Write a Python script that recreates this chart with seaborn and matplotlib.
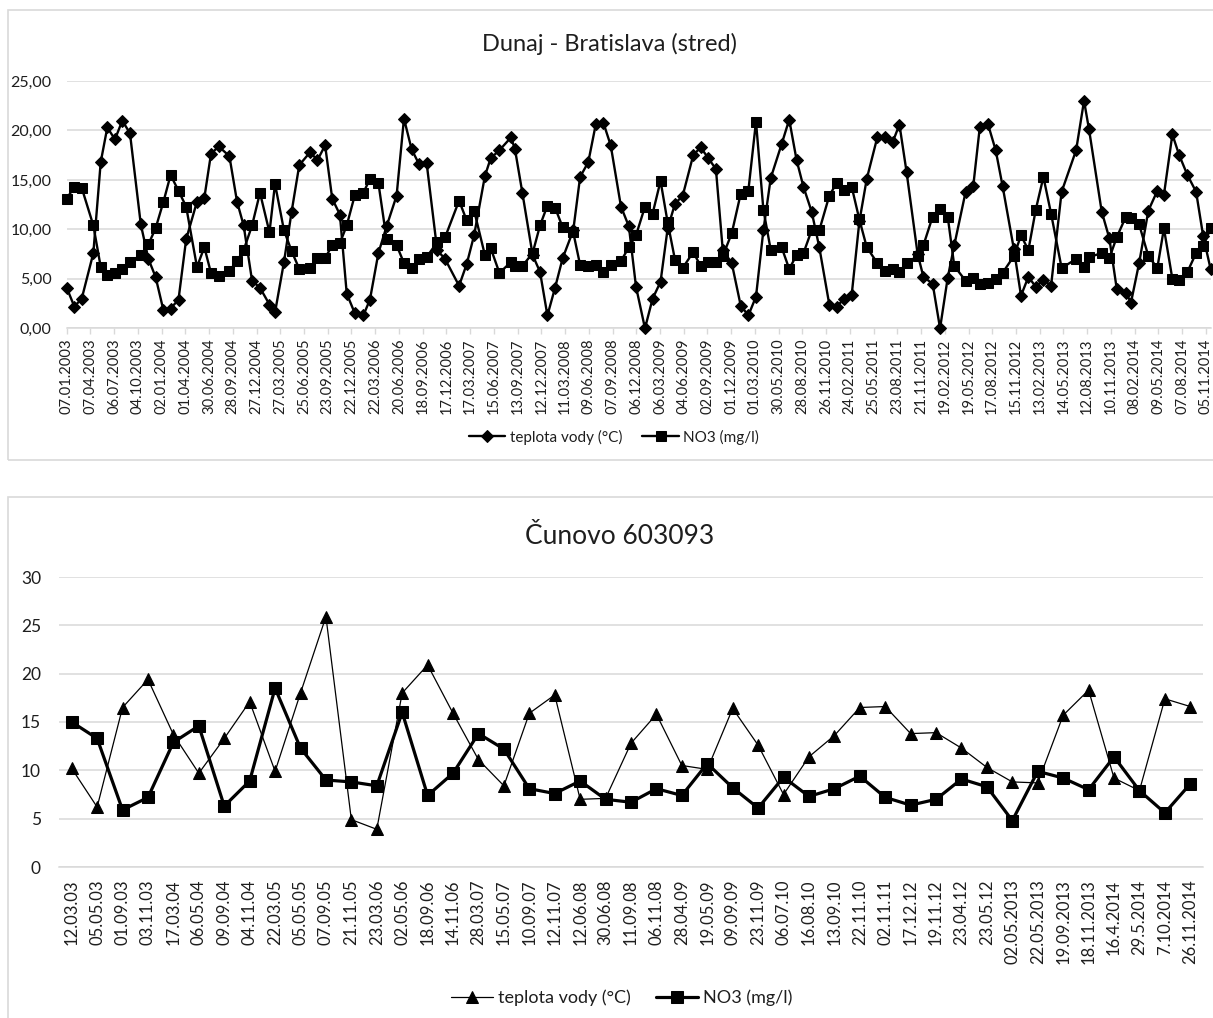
import numpy as np
import pandas as pd
import matplotlib
matplotlib.use("Agg")
import matplotlib.pyplot as plt
import seaborn as sns
from matplotlib.patches import Rectangle

# ---------------- data: Dunaj - Bratislava (stred) ----------------
bratislava_dates = [
    "07.01.2003", "05.02.2003", "05.03.2003", "18.04.2003", "16.05.2003", "10.06.2003",
    "09.07.2003", "06.08.2003", "04.09.2003", "15.10.2003", "13.11.2003", "10.12.2003",
    "09.01.2004", "05.02.2004", "06.03.2004", "04.04.2004", "15.05.2004", "12.06.2004",
    "07.07.2004", "05.08.2004", "15.09.2004", "14.10.2004", "08.11.2004", "10.12.2004",
    "09.01.2005", "14.02.2005", "07.03.2005", "10.04.2005", "09.05.2005", "07.06.2005",
    "18.07.2005", "15.08.2005", "13.09.2005", "10.10.2005", "08.11.2005", "04.12.2005",
    "04.01.2006", "05.02.2006", "02.03.2006", "03.04.2006", "04.05.2006", "11.06.2006",
    "09.07.2006", "07.08.2006", "04.09.2006", "03.10.2006", "12.11.2006", "12.12.2006",
    "03.02.2007", "04.03.2007", "01.04.2007", "12.05.2007", "03.06.2007", "06.07.2007",
    "19.08.2007", "03.09.2007", "01.10.2007", "09.11.2007", "07.12.2007",
    "04.01.2008", "02.02.2008", "02.03.2008", "11.04.2008", "07.05.2008", "07.06.2008",
    "06.07.2008", "03.08.2008", "31.08.2008", "09.10.2008", "08.11.2008", "05.12.2008",
    "08.01.2009", "06.02.2009", "08.03.2009", "04.04.2009", "02.05.2009", "31.05.2009",
    "10.07.2009", "07.08.2009", "05.09.2009", "04.10.2009", "30.10.2009", "03.12.2009",
    "06.01.2010", "04.02.2010", "05.03.2010", "02.04.2010", "30.04.2010", "10.06.2010",
    "09.07.2010", "06.08.2010", "01.09.2010", "02.10.2010", "31.10.2010", "08.12.2010",
    "05.01.2011", "03.02.2011", "03.03.2011", "01.04.2011", "29.04.2011", "08.06.2011",
    "07.07.2011", "05.08.2011", "31.08.2011", "27.09.2011", "08.11.2011", "30.11.2011",
    "04.01.2012", "01.02.2012", "01.03.2012", "26.03.2012", "08.05.2012", "06.06.2012",
    "01.07.2012", "31.07.2012", "30.08.2012", "25.09.2012", "07.11.2012", "04.12.2012",
    "01.01.2013", "29.01.2013", "27.02.2013", "28.03.2013", "07.05.2013", "01.07.2013",
    "31.07.2013", "19.08.2013", "06.10.2013", "04.11.2013", "02.12.2013",
    "06.01.2014", "25.01.2014", "25.02.2014", "01.04.2014", "05.05.2014", "30.05.2014",
    "01.07.2014", "27.07.2014", "27.08.2014", "29.09.2014", "26.10.2014", "23.11.2014",
]
bratislava_temp = [
    4.1, 2.2, 3.0, 7.6, 16.8, 20.3, 19.1, 21.0, 19.7, 10.5, 7.0, 5.2,
    1.8, 2.0, 2.9, 9.0, 12.8, 13.2, 17.6, 18.4, 17.4, 12.8, 10.4, 4.8,
    4.1, 2.4, 1.6, 6.7, 11.8, 16.5, 17.8, 17.0, 18.5, 13.1, 11.5, 3.5,
    1.5, 1.3, 2.9, 7.6, 10.3, 13.4, 21.2, 18.1, 16.6, 16.7, 7.9, 7.0,
    4.3, 6.5, 9.4, 15.4, 17.2, 18.0, 19.3, 18.1, 13.7, 7.4, 5.7,
    1.3, 4.1, 7.1, 9.9, 15.3, 16.8, 20.7, 20.8, 18.5, 12.3, 10.3, 4.2,
    0.0, 3.0, 4.7, 10.1, 12.6, 13.4, 17.5, 18.3, 17.2, 16.1, 7.9, 6.6,
    2.3, 1.3, 3.2, 9.9, 15.2, 18.6, 21.1, 17.0, 14.3, 11.8, 8.2, 2.4,
    2.2, 3.0, 3.4, 10.8, 15.1, 19.3, 19.3, 18.8, 20.6, 15.8, 7.5, 5.2,
    4.5, 0.0, 5.1, 8.4, 13.8, 14.4, 20.4, 20.7, 18.0, 14.4, 8.0, 3.3,
    5.2, 4.2, 4.9, 4.3, 13.8, 18.0, 23.0, 20.1, 11.8, 9.1, 4.0,
    3.6, 2.6, 6.6, 11.9, 13.9, 13.5, 19.6, 17.5, 15.5, 13.8, 9.3, 6.0,
]
bratislava_no3 = [
    13.1, 14.3, 14.2, 10.4, 6.2, 5.4, 5.6, 6.0, 6.7, 7.4, 8.5, 10.1,
    12.8, 15.5, 13.9, 12.3, 6.2, 8.2, 5.6, 5.3, 5.8, 6.8, 7.9, 10.4,
    13.7, 9.7, 14.6, 9.9, 7.8, 6.0, 6.1, 7.1, 7.1, 8.4, 8.6, 10.4,
    13.5, 13.7, 15.1, 14.7, 9.0, 8.4, 6.6, 6.1, 7.0, 7.2, 8.7, 9.2,
    12.9, 10.9, 11.9, 7.4, 8.1, 5.6, 6.7, 6.3, 6.3, 7.6, 10.4,
    12.4, 12.2, 10.2, 9.7, 6.4, 6.3, 6.4, 5.7, 6.4, 6.8, 8.2, 9.4,
    12.3, 11.6, 14.9, 10.7, 6.9, 6.1, 7.7, 6.3, 6.7, 6.7, 7.3, 9.6,
    13.6, 13.9, 20.9, 12.0, 7.9, 8.2, 6.0, 7.4, 7.6, 9.9, 9.9, 13.4,
    14.7, 14.0, 14.3, 11.0, 8.2, 6.6, 5.8, 6.0, 5.7, 6.6, 7.3, 8.4,
    11.3, 12.1, 11.3, 6.3, 4.8, 5.1, 4.5, 4.6, 5.0, 5.6, 7.3, 9.4,
    7.9, 12.0, 15.3, 11.6, 6.1, 7.0, 6.2, 7.2, 7.6, 7.1, 9.2,
    11.3, 11.1, 10.5, 7.3, 6.1, 10.1, 5.0, 4.9, 5.7, 7.6, 8.3, 10.1,
]
bratislava_ticks = [
    "07.01.2003", "07.04.2003", "06.07.2003", "04.10.2003", "02.01.2004", "01.04.2004",
    "30.06.2004", "28.09.2004", "27.12.2004", "27.03.2005", "25.06.2005", "23.09.2005",
    "22.12.2005", "22.03.2006", "20.06.2006", "18.09.2006", "17.12.2006", "17.03.2007",
    "15.06.2007", "13.09.2007", "12.12.2007", "11.03.2008", "09.06.2008", "07.09.2008",
    "06.12.2008", "06.03.2009", "04.06.2009", "02.09.2009", "01.12.2009", "01.03.2010",
    "30.05.2010", "28.08.2010", "26.11.2010", "24.02.2011", "25.05.2011", "23.08.2011",
    "21.11.2011", "19.02.2012", "19.05.2012", "17.08.2012", "15.11.2012", "13.02.2013",
    "14.05.2013", "12.08.2013", "10.11.2013", "08.02.2014", "09.05.2014", "07.08.2014",
    "05.11.2014",
]
bratislava_yticks = [0, 5, 10, 15, 20, 25]

# ---------------- data: Čunovo 603093 ----------------
cunovo_labels = [
    "12.03.03", "05.05.03", "01.09.03", "03.11.03", "17.03.04", "06.05.04", "09.09.04",
    "04.11.04", "22.03.05", "05.05.05", "07.09.05", "21.11.05", "23.03.06", "02.05.06",
    "18.09.06", "14.11.06", "28.03.07", "15.05.07", "10.09.07", "12.11.07", "12.06.08",
    "30.06.08", "11.09.08", "06.11.08", "28.04.09", "19.05.09", "09.09.09", "23.11.09",
    "06.07.10", "16.08.10", "13.09.10", "22.11.10", "02.11.11", "17.12.12", "19.11.12",
    "23.04.12", "23.05.12", "02.05.2013", "22.05.2013", "19.09.2013", "18.11.2013",
    "16.4.2014", "29.5.2014", "7.10.2014", "26.11.2014",
]
cunovo_temp = [
    10.2, 6.2, 16.5, 19.4, 13.7, 9.7, 13.3, 17.1, 9.9, 18.0, 25.9, 4.9, 3.9, 18.0,
    20.9, 15.9, 11.1, 8.4, 15.9, 17.8, 7.0, 7.1, 12.8, 15.8, 10.5, 10.1, 16.4, 12.6,
    7.5, 11.4, 13.6, 16.5, 16.6, 13.8, 13.9, 12.3, 10.3, 8.8, 8.7, 15.7, 18.3, 9.2,
    7.9, 17.4, 16.6,
]
cunovo_no3 = [
    15.0, 13.3, 5.9, 7.2, 12.9, 14.6, 6.3, 8.9, 18.5, 12.3, 9.0, 8.8, 8.4, 16.0,
    7.4, 9.7, 13.8, 12.2, 8.1, 7.6, 8.9, 7.0, 6.7, 8.1, 7.4, 10.7, 8.2, 6.1,
    9.3, 7.3, 8.1, 9.4, 7.2, 6.4, 7.0, 9.1, 8.3, 4.8, 9.9, 9.2, 8.0, 11.4,
    7.9, 5.6, 8.6,
]
cunovo_yticks = [0, 5, 10, 15, 20, 25, 30]

label_temp = "teplota vody (°C)"
label_no3 = "NO3 (mg/l)"

# ---------------- styling ----------------
sns.set_theme(style="white")
plt.rcParams["font.family"] = ["Lato", "DejaVu Sans"]
TXT = "#1e1e1e"
GRID = "#d9d9d9"

W, H = 1213, 1018
fig = plt.figure(figsize=(W / 100, H / 100), dpi=100)
fig.patch.set_facecolor("white")


def fx(px):
    return px / W


def fy(py):
    return 1 - py / H


# chart frames
fig.add_artist(Rectangle((fx(8), fy(460)), fx(1230 - 8), (460 - 10) / H,
                         transform=fig.transFigure, fill=False, edgecolor=GRID, lw=1.2))
fig.add_artist(Rectangle((fx(8), fy(1030)), fx(1230 - 8), (1030 - 497) / H,
                         transform=fig.transFigure, fill=False, edgecolor=GRID, lw=1.2))

# ---------------- top chart ----------------
df_top = pd.DataFrame({
    "date": pd.to_datetime(bratislava_dates, format="%d.%m.%Y"),
    "temp": bratislava_temp,
    "no3": bratislava_no3,
})
ax1 = fig.add_axes([fx(66.7), fy(328.3), fx(1210.6 - 66.7), (328.3 - 81) / H])
sns.lineplot(data=df_top, x="date", y="temp", ax=ax1, color="black", lw=1.7,
             marker="D", markersize=5.8, markeredgecolor="black", estimator=None,
             sort=False, label=label_temp, clip_on=False, zorder=3)
sns.lineplot(data=df_top, x="date", y="no3", ax=ax1, color="black", lw=1.7,
             marker="s", markersize=7.4, markeredgecolor="black", estimator=None,
             sort=False, label=label_no3, clip_on=False, zorder=3)
ax1.set_xlim(df_top["date"].min(), df_top["date"].max())
ax1.set_ylim(0, 25)
tick_dates = pd.to_datetime(bratislava_ticks, format="%d.%m.%Y")
ax1.set_xticks(tick_dates)
ax1.set_xticklabels(bratislava_ticks, rotation=90, fontsize=10.6, color=TXT)
ax1.set_yticks(bratislava_yticks)
ax1.set_yticklabels([f"{v:.2f}".replace(".", ",") for v in bratislava_yticks],
                    fontsize=11.5, color=TXT)
ax1.set_xlabel("")
ax1.set_ylabel("")
ax1.yaxis.grid(True, color=GRID, lw=1.1)
ax1.xaxis.grid(False)
ax1.set_axisbelow(True)
for s in ["top", "right", "left"]:
    ax1.spines[s].set_visible(False)
ax1.spines["bottom"].set_color(GRID)
ax1.spines["bottom"].set_linewidth(1.1)
ax1.tick_params(axis="x", bottom=True, length=4.5, width=1, color=GRID, pad=3, direction="out")
ax1.tick_params(axis="y", left=False, length=0, pad=11)
h, l = ax1.get_legend_handles_labels()
ax1.legend(h, l, loc="center", bbox_to_anchor=(fx(614), fy(437)), bbox_transform=fig.transFigure,
           ncol=2, frameon=False, fontsize=11, handlelength=2.4, columnspacing=1.3,
           handletextpad=0.3, labelcolor=TXT)
fig.text(fx(610), fy(44), "Dunaj - Bratislava (stred)", ha="center", va="center",
         fontsize=17, color=TXT)

# ---------------- bottom chart ----------------
df_bot = pd.DataFrame({"datum": cunovo_labels, "temp": cunovo_temp, "no3": cunovo_no3})
ax2 = fig.add_axes([fx(59), fy(867), fx(1203 - 59), (867 - 577) / H])
sns.lineplot(data=df_bot, x="datum", y="temp", ax=ax2, color="black", lw=0.9,
             marker="^", markersize=8.8, markeredgecolor="black", estimator=None,
             sort=False, label=label_temp, clip_on=False, zorder=3)
sns.lineplot(data=df_bot, x="datum", y="no3", ax=ax2, color="black", lw=2.3,
             marker="s", markersize=8.8, markeredgecolor="black", estimator=None,
             sort=False, label=label_no3, clip_on=False, zorder=4)
ax2.set_xlim(-0.5, len(cunovo_labels) - 0.5)
ax2.set_ylim(0, 30)
ax2.set_xticks(range(len(cunovo_labels)))
ax2.set_xticklabels(cunovo_labels, rotation=90, fontsize=12, color=TXT)
ax2.set_yticks(cunovo_yticks)
ax2.set_yticklabels([str(v) for v in cunovo_yticks], fontsize=12.5, color=TXT)
ax2.set_xlabel("")
ax2.set_ylabel("")
ax2.yaxis.grid(True, color=GRID, lw=1.1)
ax2.xaxis.grid(False)
ax2.set_axisbelow(True)
for s in ["top", "right", "left"]:
    ax2.spines[s].set_visible(False)
ax2.spines["bottom"].set_color(GRID)
ax2.spines["bottom"].set_linewidth(1.1)
ax2.tick_params(axis="x", bottom=False, length=0, pad=9)
ax2.tick_params(axis="y", left=False, length=0, pad=13)
h, l = ax2.get_legend_handles_labels()
ax2.legend(h, l, loc="center", bbox_to_anchor=(fx(622), fy(998)), bbox_transform=fig.transFigure,
           ncol=2, frameon=False, fontsize=13, handlelength=2.3, columnspacing=1.4,
           handletextpad=0.3, labelcolor=TXT)
fig.text(fx(620), fy(537), "Čunovo 603093", ha="center", va="center",
         fontsize=19, color=TXT)

fig.savefig("out.png", dpi=100, facecolor="white")
